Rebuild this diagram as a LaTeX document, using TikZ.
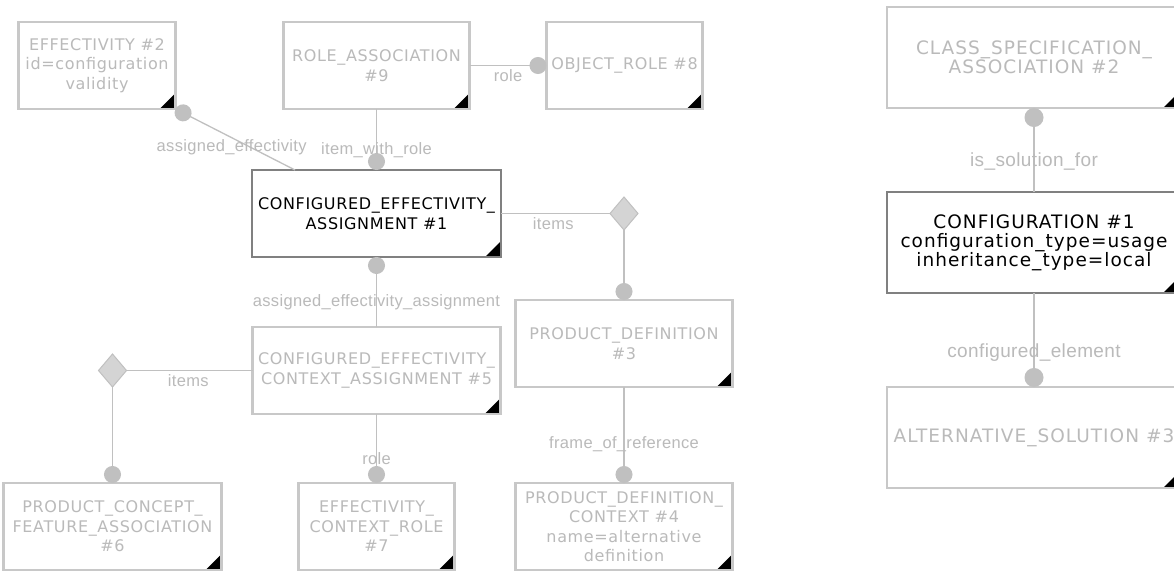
\documentclass[tikz,border=0pt]{standalone}
\usepackage{fontspec}
\setmainfont{Liberation Sans}
\newfontfamily\boxfont{DejaVu Sans}[LetterSpace=4]
\newfontfamily\rboxfont{DejaVu Sans}[LetterSpace=5.5]
\newfontfamily\rolefont{Liberation Sans}[LetterSpace=2]
\usetikzlibrary{positioning,arrows.meta,calc,shapes.geometric}
\definecolor{EdgeGray}{RGB}{200,200,200}
\definecolor{InkGray}{RGB}{186,186,186}
\definecolor{LinkGray}{RGB}{192,192,192}
\definecolor{FocusEdge}{RGB}{128,128,128}
\definecolor{ChoiceFill}{RGB}{212,212,212}
\tikzset{
  link/.style={-{Circle[length=17pt]},line width=1.3pt,draw=LinkGray},
  plainlink/.style={line width=1.3pt,draw=LinkGray},
  rlink/.style={-{Circle[length=19pt]},line width=1.4pt,draw=LinkGray},
  box/.style={draw=EdgeGray,fill=white,line width=2.6pt,outer sep=0pt,inner sep=0pt,
    minimum height=87pt,align=center,text=InkGray,
    font=\boxfont\fontsize{16}{19.5}\selectfont,
    path picture={\fill[black] (path picture bounding box.south east)
      -- ++(-16pt,0pt) -- ++(16pt,16pt) -- cycle;}},
  strongbox/.style={box,draw=FocusEdge,text=black},
  rbox/.style={box,minimum width=294pt,minimum height=101pt,
    font=\rboxfont\fontsize{18.5}{19}\selectfont,
    path picture={\fill[black] (path picture bounding box.south east)
      -- ++(-18pt,0pt) -- ++(18pt,18pt) -- cycle;}},
  rstrongbox/.style={rbox,draw=FocusEdge,text=black},
  choice/.style={diamond,draw=LinkGray,fill=ChoiceFill,line width=1pt,
    minimum width=28pt,minimum height=33pt,inner sep=0pt,outer sep=0pt},
  lbl/.style={font=\rolefont\fontsize{16.5}{16.5}\selectfont,text=InkGray,inner sep=0pt},
  rlbl/.style={lbl,font=\rolefont\fontsize{19}{19}\selectfont}
}

\begin{document}
\begin{tikzpicture}[x=1pt,y=-1pt]
  \fill[white] (0,0) rectangle (1174,570);
  \useasboundingbox (0,0) rectangle (1174,570);
  \clip (0,0) rectangle (1174,570);

  % left diagram
  \node[strongbox,minimum width=249pt] (cea1) at (376.5,213.5) {CONFIGURED\_EFFECTIVITY\_\\ASSIGNMENT \#1};
  \node[box,minimum width=186pt,above=61pt of cea1] (ra9) {ROLE\_ASSOCIATION\\\#9};
  \node[box,minimum width=156pt,right=77pt of ra9] (or8) {OBJECT\_ROLE \#8};
  \node[box,minimum width=157pt,left=108pt of ra9] (eff2) {EFFECTIVITY \#2\\id=configuration\\validity};
  \node[box,minimum width=248pt,below=70pt of cea1] (ceca5) {CONFIGURED\_EFFECTIVITY\_\\CONTEXT\_ASSIGNMENT \#5};
  \node[box,minimum width=156pt,below=69pt of ceca5] (ecr7) {EFFECTIVITY\_\\CONTEXT\_ROLE\\\#7};
  \node[choice,right=109pt of cea1] (dia1) {};
  \node[box,minimum width=217pt,below=70pt of dia1] (pd3) {PRODUCT\_DEFINITION\\\#3};
  \node[box,minimum width=217pt,below=96pt of pd3] (pdc4) {PRODUCT\_DEFINITION\_\\CONTEXT \#4\\name=alternative\\definition};
  \node[choice,left=126pt of ceca5] (dia2) {};
  \node[box,minimum width=218pt,below=96pt of dia2] (pcfa6) {PRODUCT\_CONCEPT\_\\FEATURE\_ASSOCIATION\\\#6};

  \draw[link] ($(cea1.north west)+(43,0)$) -- (eff2.south east)
    node[lbl,pos=0.53,yshift=-10pt] {assigned\_effectivity};
  \draw[link] (ra9.south) -- (cea1.north) node[lbl,pos=0.67] {item\_with\_role};
  \draw[link] (ra9.east) -- (or8.west) node[lbl,pos=0.5,yshift=-10pt] {role};
  \draw[plainlink] (cea1.east) -- (dia1.west) node[lbl,pos=0.48,yshift=-10pt] {items};
  \draw[link] (dia1.south) -- (pd3.north);
  \draw[link] (ceca5.north) -- (cea1.south) node[lbl,pos=0.36] {assigned\_effectivity\_assignment};
  \draw[plainlink] (ceca5.west) -- (dia2.east) node[lbl,pos=0.51,yshift=-10pt] {items};
  \draw[link] (dia2.south) -- (pcfa6.north);
  \draw[link] (ceca5.south) -- (ecr7.north) node[lbl,pos=0.65] {role};
  \draw[link] (pd3.south) -- (pdc4.north) node[lbl,pos=0.6] {frame\_of\_reference};

  % right diagram
  \node[rstrongbox] (conf1) at (1034,242.5) {CONFIGURATION \#1\\configuration\_type=usage\\inheritance\_type=local};
  \node[rbox,above=84pt of conf1] (cs2) {CLASS\_SPECIFICATION\_\\ASSOCIATION \#2};
  \node[rbox,below=94pt of conf1] (alt3) {ALTERNATIVE\_SOLUTION \#3};

  \draw[rlink] (conf1.north) -- (cs2.south) node[rlbl,pos=0.36] {is\_solution\_for};
  \draw[rlink] (conf1.south) -- (alt3.north) node[rlbl,pos=0.63] {configured\_element};
\end{tikzpicture}
\end{document}
